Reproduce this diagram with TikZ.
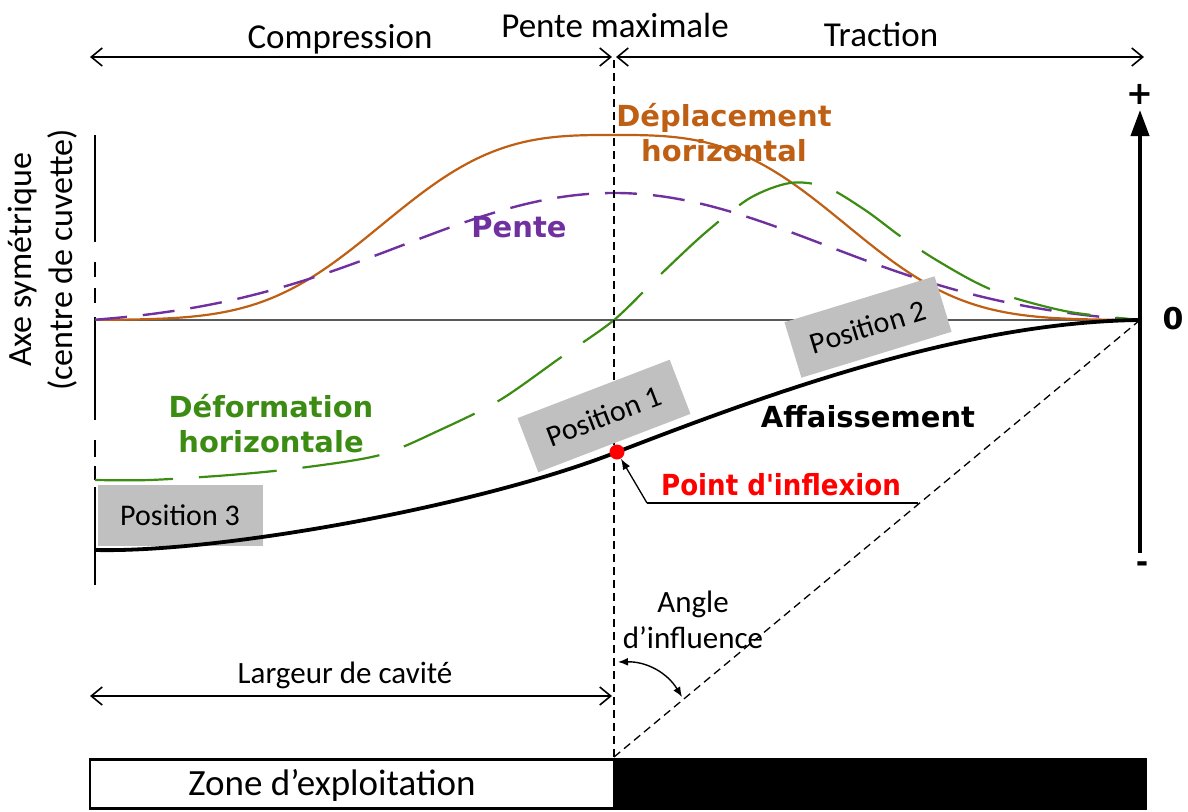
\documentclass[tikz,border=0pt]{standalone}
\usepackage{fontspec}
\setmainfont{Carlito}
\newfontfamily\dvs{DejaVu Sans}
\usepackage{graphicx}
\usetikzlibrary{arrows.meta}
\definecolor{brownc}{RGB}{190,95,20}
\definecolor{purplec}{RGB}{112,48,160}
\definecolor{greenc}{RGB}{60,140,20}
\definecolor{boxgray}{RGB}{192,192,192}
\definecolor{zerogray}{RGB}{90,90,90}
\begin{document}
\begin{tikzpicture}[x=1pt,y=-1pt,
  txt/.style={inner sep=0pt, font=\fontsize{35}{42}\selectfont},
  smalltxt/.style={inner sep=0pt, font=\fontsize{31}{36}\selectfont, align=center},
  boldlbl/.style={inner sep=0pt, font=\dvs\bfseries\fontsize{29}{35}\selectfont, align=center},
  posbox/.style={fill=boxgray, inner sep=0pt, font=\fontsize{30}{36}\selectfont},
  dimarrow/.style={line width=1.6pt, {Straight Barb[length=11pt,width=18pt]}-{Straight Barb[length=11pt,width=18pt]}},
  thindash/.style={line width=1.3pt, dash pattern=on 8pt off 5pt},
  axisseg/.style={line width=1.8pt},
  brownline/.style={brownc, line width=2.2pt},
  purpleline/.style={purplec, line width=2.4pt, dash pattern=on 32pt off 16pt},
  greenline/.style={greenc, line width=2.2pt, dash pattern=on 78pt off 26pt},
  subsline/.style={line width=3.8pt, line join=round},
  filltip/.style={-{Latex[length=11pt,width=8pt]}, line width=1.3pt}
]
\useasboundingbox (0,0) rectangle (1188,811);

% top dimension arrows
\coordinate (tl) at (90,57);
\coordinate (tm1) at (612,57);
\coordinate (tm2) at (616,57);
\coordinate (tr) at (1144,57);
\draw[dimarrow] (tl) -- (tm1);
\draw[dimarrow] (tm2) -- (tr);
\node[txt, anchor=base] (comp) at (340,48) {Compression};
\node[txt, anchor=base] (pmax) at (615,37) {Pente maximale};
\node[txt, anchor=base] (trac) at (881,46) {Traction};

% left symmetry axis (broken line)
\coordinate (la1) at (95,135); \coordinate (la2) at (95,242);
\coordinate (la3) at (95,262); \coordinate (la4) at (95,277);
\coordinate (la5) at (95,288); \coordinate (la6) at (95,303);
\coordinate (la7) at (95,317); \coordinate (la8) at (95,420);
\coordinate (la9) at (95,440); \coordinate (la10) at (95,457);
\coordinate (la11) at (95,466); \coordinate (la12) at (95,480);
\coordinate (la13) at (95,487); \coordinate (la14) at (95,585);
\draw[axisseg] (la1) -- (la2) (la3) -- (la4) (la5) -- (la6) (la7) -- (la8)
  (la9) -- (la10) (la11) -- (la12) (la13) -- (la14);
\node[inner sep=0pt, font=\fontsize{34}{41}\selectfont, align=center, rotate=90] (axlbl) at (43,260) {Axe symétrique\\(centre de cuvette)};

% zero line
\coordinate (z0) at (95,320);
\coordinate (z1) at (1140,320);
\draw[zerogray, line width=1.5pt] (z0) -- (z1);

% curves
\draw[brownline] plot[domain=95:1140, samples=220] (\x,{320-185*exp(-(abs(\x-614)/266)^3)});
\draw[purpleline] plot[domain=95:1140, samples=220] (\x,{320-127*(exp(-((\x-614)/300)^2)-0.048)/0.952});
\draw[greenline] plot[smooth, tension=0.5] coordinates {(95,480) (150,480) (230,475) (300,468) (380,455) (440,430) (500,400) (560,358) (614,320) (660,275) (705,233) (750,198) (790,183) (826,187) (865,210) (900,236) (933,258) (975,282) (1011,297) (1070,312) (1140,320)};

% right axis
\coordinate (ra0) at (1140,553);
\coordinate (ra1) at (1140,110);
\draw[line width=4pt, -{Triangle[length=26pt,width=18pt]}] (ra0) -- (ra1);
\node[inner sep=0pt, font=\dvs\bfseries\fontsize{32}{36}\selectfont] (plus) at (1140,94) {+};
\node[inner sep=0pt, font=\dvs\bfseries\fontsize{30}{36}\selectfont] (zero) at (1173,319) {0};
\node[inner sep=0pt, font=\dvs\bfseries\fontsize{30}{36}\selectfont] (minus) at (1142,567) {-};

% vertical dashed line and influence line
\coordinate (vtop) at (614,60);
\coordinate (vbot) at (614,757);
\draw[thindash] (vtop) -- (vbot);
\draw[thindash] (vbot) -- (z1);

% position boxes
\node[posbox, minimum width=165pt, minimum height=61pt] (p3) at (180,515) {Position 3};
\node[posbox, minimum width=163pt, minimum height=58pt, rotate=21] (p1) at (604,416) {Position 1};
\node[posbox, minimum width=157pt, minimum height=58pt, rotate=17] (p2) at (868,327) {Position 2};

% subsidence curve
\coordinate (s0) at (95,550);
\coordinate (sinf) at (617,452);
\draw[subsline] (s0) .. controls (220,553) and (480,506) .. (sinf)
  .. controls (760,397) and (960,322) .. (z1);

% inflection point
\node[circle, fill=red, inner sep=0pt, minimum size=15pt] (dot) at (sinf) {};
\coordinate (ldr) at (647,503);
\coordinate (ldrend) at (918,503);
\draw[line width=1.3pt] (ldrend) -- (ldr);
\draw[filltip] (ldr) -- (dot);

% coloured labels
\node[boldlbl, text=brownc, anchor=south] (dep) at (724,162) {Déplacement\\horizontal};
\node[boldlbl, text=purplec, anchor=base] (pente) at (519,237) {Pente};
\node[boldlbl, text=greenc, anchor=south] (def) at (271,453) {Déformation\\horizontale};
\node[boldlbl, text=black, anchor=base] (aff) at (868,427) {Affaissement};
\node[boldlbl, text=red, anchor=base] (pinf) at (781,495) {\scalebox{0.9}[1]{Point d\textquotesingle inflexion}};

% angle of influence
\node[smalltxt, anchor=base] (ang) at (693,612) {Angle};
\node[smalltxt, anchor=base] (ang2) at (693,648) {d’influence};
\coordinate (a1) at (618,662);
\coordinate (a2) at (682,697);
\draw[line width=1.4pt, {Latex[length=10pt,width=8pt]}-{Latex[length=10pt,width=8pt]}] (a1) to[bend left=30] (a2);

% cavity width
\coordinate (cl) at (90,696);
\coordinate (cr) at (612,696);
\draw[dimarrow] (cl) -- (cr);
\node[smalltxt, anchor=base] (larg) at (345,683) {Largeur de cavité};

% exploitation zone
\node[draw=black, line width=2.6pt, fill=white, minimum width=524pt, minimum height=49pt, inner sep=0pt] (zone) at (352,784) {};
\node[fill=black, minimum width=533pt, minimum height=52pt, inner sep=0pt] (mine) at (880,784) {};
\node[inner sep=0pt, font=\fontsize{37}{42}\selectfont, anchor=base] (zonelbl) at (332,795) {Zone d’exploitation};
\end{tikzpicture}
\end{document}
